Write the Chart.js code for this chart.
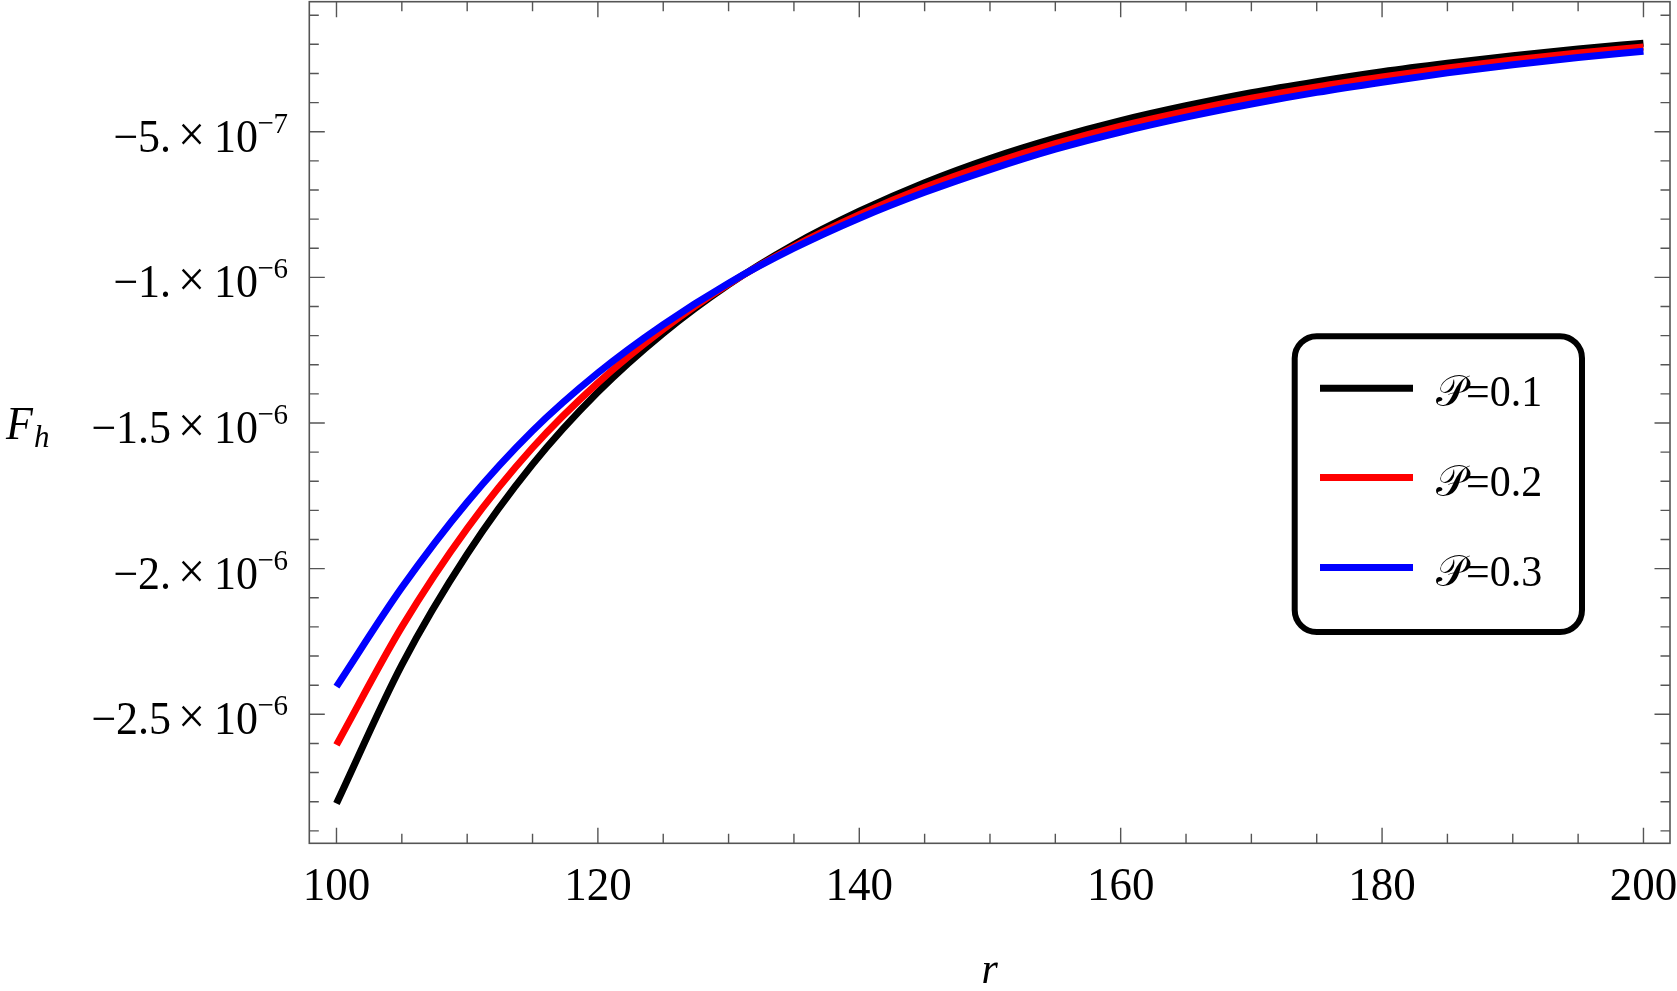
<!DOCTYPE html>
<html>
<head>
<meta charset="utf-8">
<script src="https://cdn.jsdelivr.net/npm/chart.js@4.4.1/dist/chart.umd.min.js"></script>
<style>
    html, body { margin: 0; padding: 0; background: #fff; }
    #wrap { width: 1677px; height: 991px; }
</style>
</head>
<body>
<div id="wrap"><canvas id="fhChart"></canvas></div>
<script>
// values
const rValues = [100, 105, 110, 115, 120, 125, 130, 135, 140, 145, 150, 155, 160, 165, 170, 175, 180, 185, 190, 195, 200];
const fhP01 = [-2.806e-6, -2.33e-6, -1.95e-6, -1.642e-6, -1.394e-6, -1.192e-6, -1.025e-6, -0.887e-6, -0.773e-6, -0.675e-6, -0.592e-6,
    -0.522e-6, -0.462e-6, -0.411e-6, -0.366e-6, -0.328e-6, -0.294e-6, -0.265e-6, -0.239e-6, -0.216e-6, -0.196e-6];
const fhP02 = [-2.605e-6, -2.20e-6, -1.862e-6, -1.585e-6, -1.362e-6, -1.178e-6, -1.023e-6, -0.894e-6, -0.785e-6, -0.691e-6, -0.611e-6,
    -0.541e-6, -0.481e-6, -0.430e-6, -0.385e-6, -0.346e-6, -0.312e-6, -0.281e-6, -0.254e-6, -0.230e-6, -0.209e-6];
const fhP03 = [-2.405e-6, -2.065e-6, -1.772e-6, -1.527e-6, -1.328e-6, -1.162e-6, -1.020e-6, -0.900e-6, -0.797e-6, -0.708e-6, -0.630e-6,
    -0.560e-6, -0.501e-6, -0.450e-6, -0.405e-6, -0.365e-6, -0.330e-6, -0.298e-6, -0.270e-6, -0.245e-6, -0.2235e-6];

const seriesLabels = ['𝒫=0.1', '𝒫=0.2', '𝒫=0.3'];
const seriesColors = ['#000000', '#ff0000', '#0000ff'];

const xMajorTicks = [100, 120, 140, 160, 180, 200];
const xTickLabels = ['100', '120', '140', '160', '180', '200'];
const yMajorTicks = [-2.5e-6, -2e-6, -1.5e-6, -1e-6, -5e-7];
const yTickMantissa = ['\u22122.5', '\u22122.', '\u22121.5', '\u22121.', '\u22125.'];
const yTickExponent = ['\u22126', '\u22126', '\u22126', '\u22126', '\u22127'];

const SERIF = '"Liberation Serif", "DejaVu Serif", serif';
const STRETCH = 1.05;

function toPoints(ys) {
    return rValues.map((r, i) => ({ x: r, y: ys[i] }));
}

function drawText(ctx, str, x, y, font, align) {
    ctx.save();
    ctx.font = font;
    ctx.textAlign = align || 'left';
    ctx.textBaseline = 'alphabetic';
    ctx.fillStyle = '#000';
    ctx.translate(x, y);
    ctx.scale(1, STRETCH);
    ctx.fillText(str, 0, 0);
    ctx.restore();
}

const frameTicks = {
    id: 'frameTicks',
    beforeDatasetsDraw(chart) {
        const ctx = chart.ctx;
        const a = chart.chartArea;
        const xs = chart.scales.x, ys = chart.scales.y;
        ctx.save();
        ctx.strokeStyle = '#555';
        ctx.lineWidth = 1.6;
        ctx.strokeRect(a.left, a.top, a.right - a.left, a.bottom - a.top);
        ctx.lineWidth = 1.4;
        ctx.beginPath();
        xs.ticks.forEach(t => {
            const px = xs.getPixelForValue(t.value);
            const len = xMajorTicks.includes(t.value) ? 15.5 : 9.5;
            ctx.moveTo(px, a.bottom); ctx.lineTo(px, a.bottom - len);
            ctx.moveTo(px, a.top); ctx.lineTo(px, a.top + len);
        });
        ys.ticks.forEach(t => {
            const py = ys.getPixelForValue(t.value);
            const major = yMajorTicks.some(m => Math.abs(m - t.value) < 1e-12);
            const len = major ? 15.5 : 9.5;
            ctx.moveTo(a.left, py); ctx.lineTo(a.left + len, py);
            ctx.moveTo(a.right, py); ctx.lineTo(a.right - len, py);
        });
        ctx.stroke();
        ctx.restore();
    },
    afterDraw(chart) {
        const ctx = chart.ctx;
        const a = chart.chartArea;
        const xs = chart.scales.x, ys = chart.scales.y;

        // x tick labels
        xMajorTicks.forEach((v, i) => {
            drawText(ctx, xTickLabels[i], xs.getPixelForValue(v), a.bottom + 57, '45px ' + SERIF, 'center');
        });

        // y tick labels with exponent
        yMajorTicks.forEach((v, i) => {
            const py = ys.getPixelForValue(v);
            drawText(ctx, yTickExponent[i], 288, py + 1, '29px ' + SERIF, 'right');
            drawText(ctx, '10', 258, py + 20, '44px ' + SERIF, 'right');
            drawText(ctx, '\u00d7', 205, py + 19, '48px ' + SERIF, 'right');
            drawText(ctx, yTickMantissa[i], 171, py + 20, '44px ' + SERIF, 'right');
        });

        // axis titles
        drawText(ctx, 'F', 6, 439, 'italic 44px ' + SERIF, 'left');
        drawText(ctx, 'h', 34, 447, 'italic 31px ' + SERIF, 'left');
        drawText(ctx, 'r', (a.left + a.right) / 2, 983, 'italic 42px ' + SERIF, 'center');

        // legend
        const bx = 1294.7, by = 336.3, bw = 287.3, bh = 295.7;
        ctx.save();
        ctx.strokeStyle = '#000';
        ctx.lineWidth = 6;
        ctx.beginPath();
        ctx.roundRect(bx, by, bw, bh, 22);
        ctx.stroke();
        const rowY = [388.3, 477.5, 567.5];
        chart.data.datasets.forEach((ds, i) => {
            ctx.strokeStyle = ds.borderColor;
            ctx.lineWidth = 7;
            ctx.beginPath();
            ctx.moveTo(1320, rowY[i]);
            ctx.lineTo(1413, rowY[i]);
            ctx.stroke();
            drawText(ctx, ds.label, 1436, rowY[i] + 18, '42px ' + SERIF, 'left');
        });
        ctx.restore();
    }
};

const datasets = [fhP01, fhP02, fhP03].map((ys, i) => ({
    label: seriesLabels[i],
    data: toPoints(ys),
    borderColor: seriesColors[i],
    borderWidth: 7,
    pointRadius: 0,
    fill: false,
    cubicInterpolationMode: 'monotone',
    order: 3 - i
}));

new Chart(document.getElementById('fhChart'), {
    type: 'line',
    data: { datasets: datasets },
    options: {
        responsive: true,
        maintainAspectRatio: false,
        animation: false,
        layout: { padding: { left: 309.3, top: 1.7, right: 7, bottom: 147.7 } },
        plugins: {
            legend: { display: false },
            tooltip: { enabled: false }
        },
        scales: {
            x: {
                type: 'linear',
                min: 97.92,
                max: 202.03,
                grid: { display: false },
                border: { display: false },
                ticks: { display: false },
                afterBuildTicks: function (scale) {
                    const t = [];
                    for (let v = 100; v <= 200; v += 5) t.push({ value: v });
                    scale.ticks = t;
                },
                afterFit: function (scale) { scale.height = 0; }
            },
            y: {
                type: 'linear',
                min: -2.9428e-6,
                max: -0.0537e-6,
                grid: { display: false },
                border: { display: false },
                ticks: { display: false },
                afterBuildTicks: function (scale) {
                    const t = [];
                    for (let k = -29; k <= -1; k++) t.push({ value: k * 1e-7 });
                    scale.ticks = t;
                },
                afterFit: function (scale) { scale.width = 0; }
            }
        }
    },
    plugins: [frameTicks]
});
</script>
</body>
</html>
